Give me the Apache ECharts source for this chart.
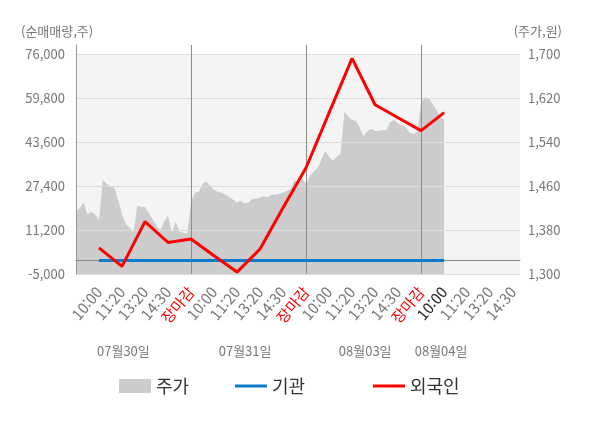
<!DOCTYPE html>
<html lang="ko">
<head>
    <meta charset="UTF-8">
    <title>순매매량 / 주가</title>
    <script src="https://cdn.jsdelivr.net/npm/echarts@6/dist/echarts.min.js"></script>
    <style>
        body{
            margin: 0
        }
        #chart{
            width: 600px;
            height: 428px;
        }
    </style>
</head>
<body>
    <div id="chart"></div>
    <script>
        // x축 라벨 (하루 5칸)
        var timeLabels = ['10:00', '11:20', '13:20', '14:30', '장마감',
                          '10:00', '11:20', '13:20', '14:30', '장마감',
                          '10:00', '11:20', '13:20', '14:30', '장마감',
                          '10:00', '11:20', '13:20', '14:30'];
        var dates = ['07월30일', '07월31일', '08월03일', '08월04일'];

        // 순매매량(주), 슬롯 1~16
        var foreign = [4600, -2200, 14300, 6600, 7900, 1700, -4300, 4200,
                       19400, 34100, 54300, 74400, 57300, 52500, 47800, 54400];
        var institution = [0, 0, 0, 0, 0, 0, 0, 0, 0, 0, 0, 0, 0, 0, 0, 0];

        // 주가(원), 장중 (한 칸에 6개)
        var price0730 = [1413, 1420, 1430, 1408, 1413, 1408, 1399, 1471, 1464, 1459,
                         1457, 1435, 1408, 1391, 1384, 1375, 1424, 1422, 1422, 1411,
                         1399, 1388, 1380, 1395, 1406, 1375, 1395, 1377, 1375, 1373];
        var price0731 = [1431, 1448, 1449, 1464, 1468, 1460, 1453, 1449, 1448, 1444,
                         1440, 1435, 1430, 1433, 1428, 1430, 1437, 1437, 1439, 1442,
                         1439, 1444, 1444, 1446, 1448, 1451, 1455, 1471, 1468, 1473];
        var price0803 = [1464, 1478, 1486, 1493, 1508, 1524, 1513, 1506, 1513, 1518,
                         1595, 1587, 1580, 1578, 1566, 1551, 1560, 1564, 1560, 1560,
                         1562, 1562, 1577, 1580, 1573, 1571, 1567, 1557, 1555, 1557];
        var price0804 = [1611, 1622, 1620, 1609, 1598, 1586, 1580];

        var volTicks = [-5000, 11200, 27400, 43600, 59800, 76000];
        var priceTicks = [1300, 1380, 1460, 1540, 1620, 1700];

        // 레이아웃
        var SLOTS_PER_DAY = 5;
        var PTS_PER_SLOT = 6;
        var X_MAX = 19.3;
        var dateLabelAt = [2.06, 7.35, 12.57, 15.87];

        var priceData = [];
        [price0730, price0731, price0803, price0804].forEach(function (day, d) {
            day.forEach(function (p, j) {
                priceData.push([d * SLOTS_PER_DAY + j / PTS_PER_SLOT, p]);
            });
        });
        var foreignData = foreign.map(function (v, i) { return [i + 1, v]; });
        var instData = institution.map(function (v, i) { return [i + 1, v]; });

        var slotTicks = timeLabels.map(function (t, i) { return i + 1; });
        var dayLines = [1, 2, 3].map(function (d) { return { xAxis: d * SLOTS_PER_DAY }; });
        var lastSlot = foreign.length;

        var fmt = function (v) { return Number(v).toLocaleString('en-US'); };
        var nameStyle = { color: '#777', fontSize: 13, fontWeight: 'normal' };

        var myChart = echarts.init(document.getElementById('chart'));
        var option = {
            animation: false,
            textStyle: {
                fontFamily: '"Noto Sans CJK KR", "Noto Sans", sans-serif'
            },
            title: [
                { text: '(순매매량,주)', left: 21, top: 25, padding: 0, textStyle: nameStyle },
                { text: '(주가,원)', right: 38, top: 25, padding: 0, textStyle: nameStyle }
            ],
            grid: {
                left: 76,
                right: 80,
                top: 45,
                bottom: 154
            },
            legend: [
                {
                    data: ['주가'], left: 114, top: 372, icon: 'rect',
                    itemWidth: 32, itemHeight: 14,
                    textStyle: { fontSize: 18, color: '#333' }
                },
                {
                    data: ['기관'], left: 230, top: 372, icon: 'rect',
                    itemWidth: 32, itemHeight: 3,
                    textStyle: { fontSize: 18, color: '#333' }
                },
                {
                    data: ['외국인'], left: 368, top: 372, icon: 'rect',
                    itemWidth: 32, itemHeight: 3,
                    textStyle: { fontSize: 18, color: '#333' }
                }
            ],
            xAxis: [
                {
                    type: 'value',
                    min: 0,
                    max: X_MAX,
                    z: 3,
                    axisLine: { lineStyle: { color: '#999' } },
                    axisTick: {
                        customValues: [0, 5, 10, 15],
                        length: 5,
                        lineStyle: { color: '#999' }
                    },
                    splitLine: { show: false },
                    axisLabel: {
                        customValues: slotTicks,
                        rotate: 50,
                        margin: 15,
                        fontSize: 15,
                        color: '#777',
                        formatter: function (v) {
                            var t = timeLabels[Math.round(v) - 1];
                            if (t === '장마감') return '{close|' + t + '}';
                            if (Math.round(v) === lastSlot) return '{now|' + t + '}';
                            return t;
                        },
                        rich: {
                            close: { color: '#ff0000', fontSize: 15 },
                            now: { color: '#222', fontSize: 15 }
                        }
                    }
                },
                {
                    type: 'value',
                    min: 0,
                    max: X_MAX,
                    position: 'bottom',
                    offset: 63,
                    axisLine: { show: false },
                    axisTick: { show: false },
                    splitLine: { show: false },
                    axisLabel: {
                        customValues: dateLabelAt,
                        fontSize: 13,
                        color: '#777',
                        formatter: function (v) {
                            return dates[dateLabelAt.indexOf(v)];
                        }
                    }
                }
            ],
            yAxis: [
                {
                    type: 'value',
                    min: volTicks[0],
                    max: 79300,
                    z: 3,
                    axisLine: { show: true, lineStyle: { color: '#999' } },
                    axisTick: { show: false, customValues: volTicks },
                    splitLine: { lineStyle: { color: '#dcdcdc' } },
                    axisLabel: {
                        customValues: volTicks,
                        margin: 11,
                        fontSize: 13,
                        color: '#777',
                        formatter: fmt
                    }
                },
                {
                    type: 'value',
                    min: priceTicks[0],
                    max: 1716.4,
                    position: 'right',
                    axisLine: { show: true, lineStyle: { color: '#ccc' } },
                    axisTick: { show: false, customValues: priceTicks },
                    splitLine: { show: false },
                    axisLabel: {
                        customValues: priceTicks,
                        margin: 8,
                        fontSize: 13,
                        color: '#777',
                        formatter: fmt
                    }
                }
            ],
            series: [
                {
                    name: '주가',
                    type: 'line',
                    xAxisIndex: 0,
                    yAxisIndex: 1,
                    data: priceData,
                    color: '#cccccc',
                    showSymbol: false,
                    lineStyle: { width: 0 },
                    areaStyle: { color: '#cccccc', opacity: 1 },
                    z: 2,
                    markArea: {
                        silent: true,
                        itemStyle: { color: '#f4f4f4' },
                        data: [[{ yAxis: priceTicks[0] }, { yAxis: priceTicks[priceTicks.length - 1] }]]
                    }
                },
                {
                    name: '기관',
                    type: 'line',
                    xAxisIndex: 0,
                    yAxisIndex: 0,
                    data: instData,
                    color: '#0a7ccc',
                    showSymbol: false,
                    lineStyle: { width: 3 },
                    z: 6,
                    markLine: {
                        silent: true,
                        symbol: 'none',
                        label: { show: false },
                        lineStyle: { color: '#888', width: 1, type: 'solid' },
                        data: [{ yAxis: 0 }]
                    }
                },
                {
                    name: '외국인',
                    type: 'line',
                    xAxisIndex: 0,
                    yAxisIndex: 0,
                    data: foreignData,
                    color: '#ff0000',
                    showSymbol: false,
                    lineStyle: { width: 3 },
                    z: 7,
                    markLine: {
                        silent: true,
                        symbol: 'none',
                        label: { show: false },
                        lineStyle: { color: '#8c8c8c', width: 1, type: 'solid' },
                        data: dayLines
                    }
                }
            ]
        };

        myChart.setOption(option);
    </script>
</body>
</html>
